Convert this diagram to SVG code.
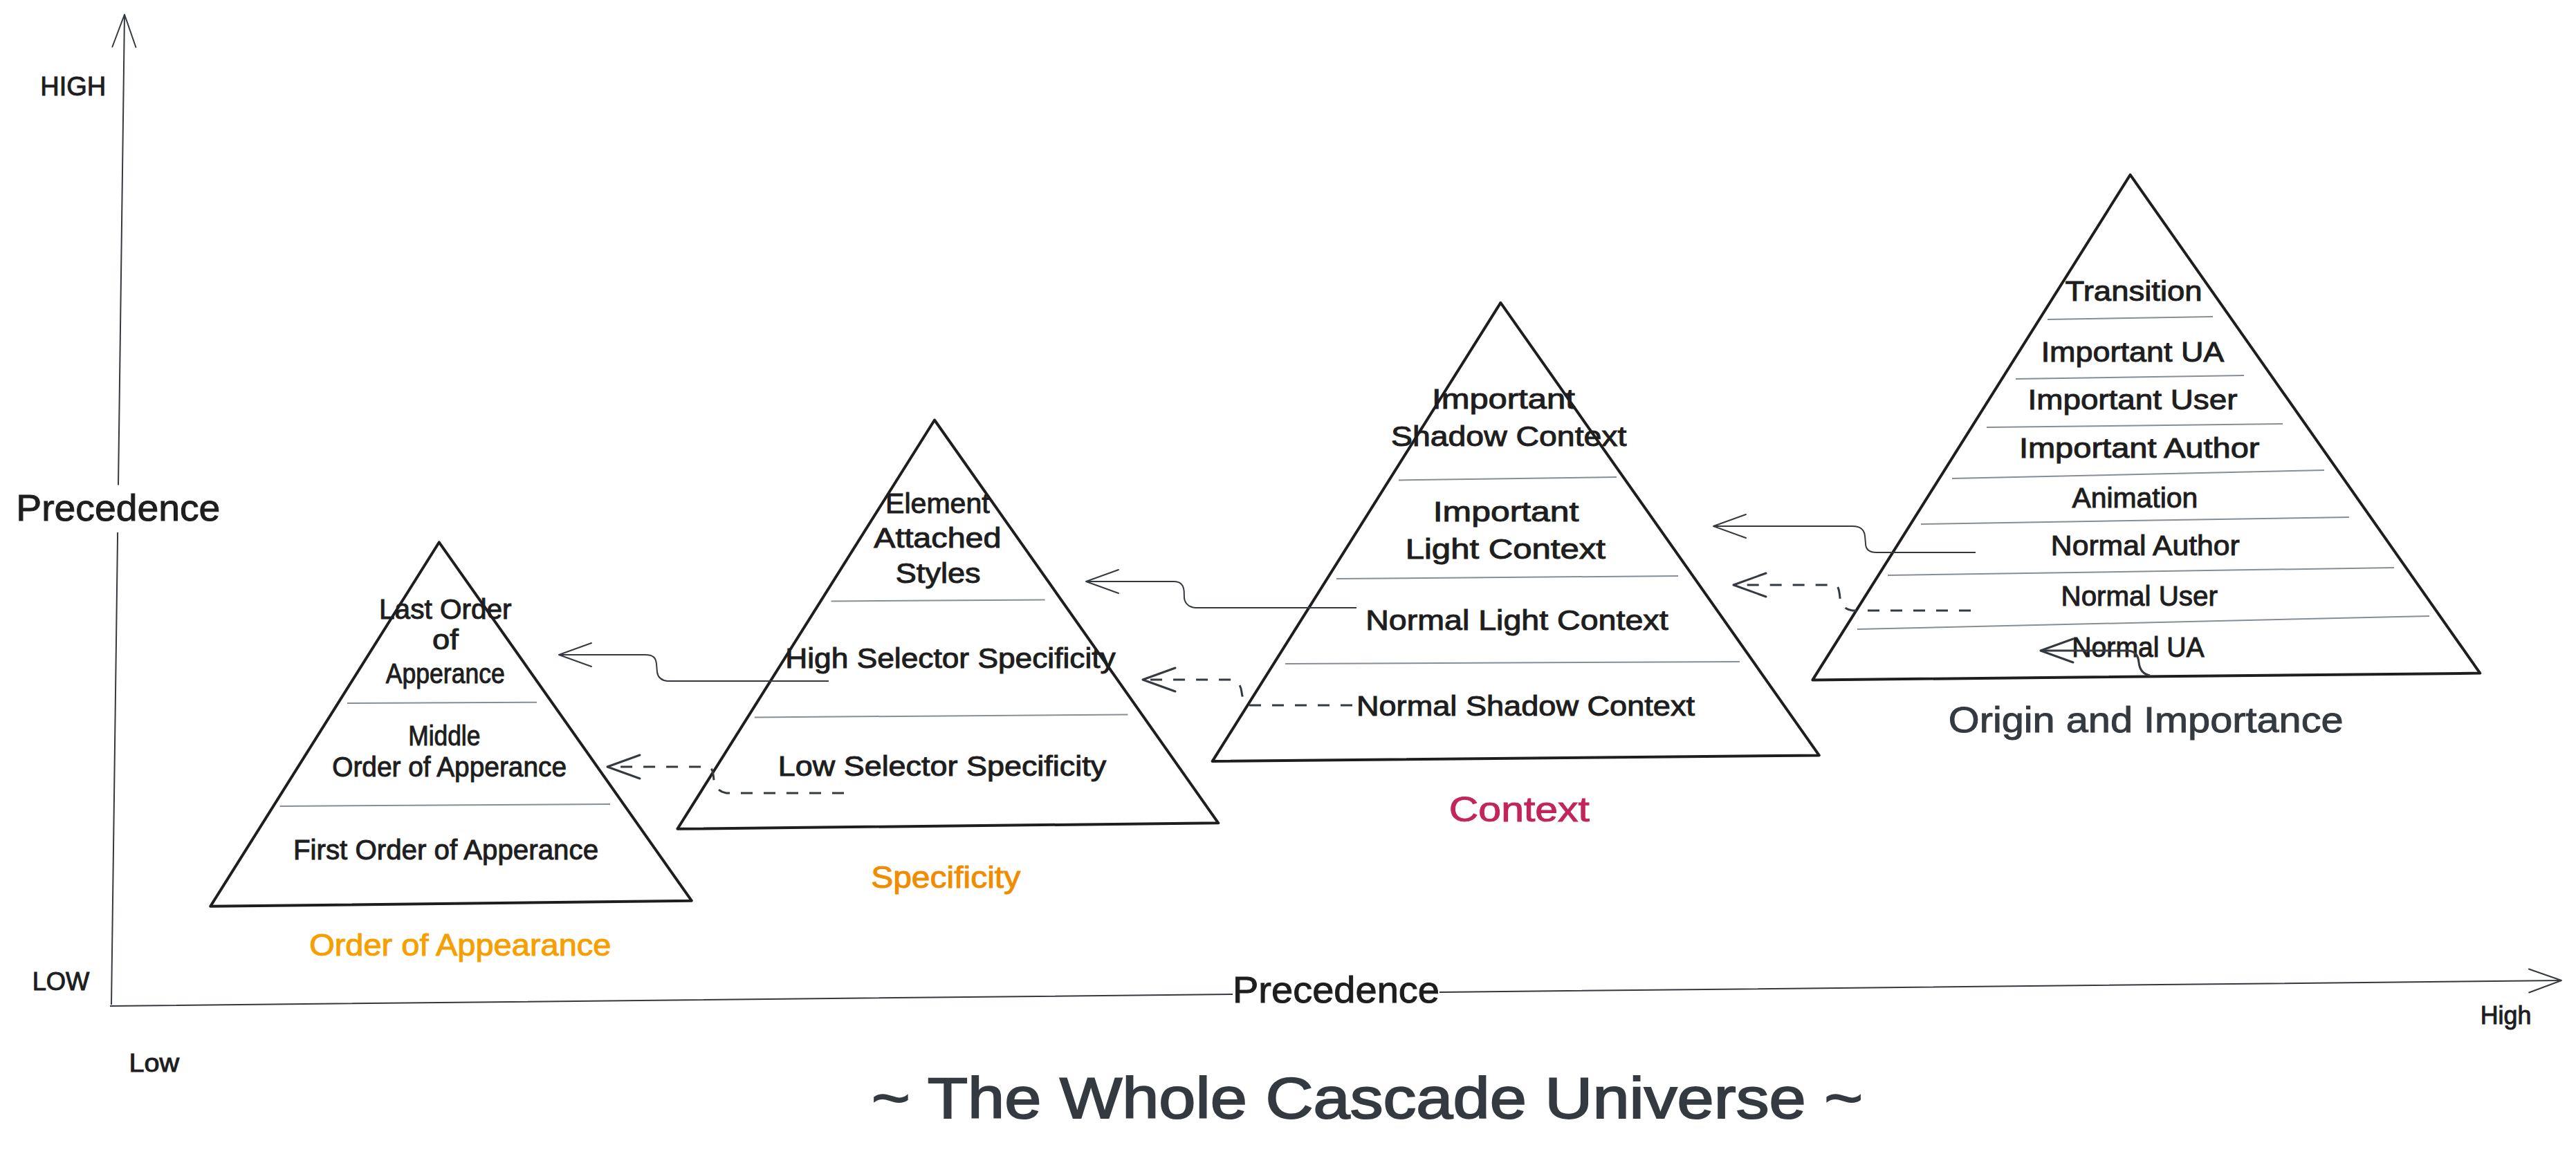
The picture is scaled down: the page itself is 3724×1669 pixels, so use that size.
<svg xmlns="http://www.w3.org/2000/svg" width="3724" height="1669" viewBox="0 0 3724 1669">
<defs>
<style>
.t{font-family:"Liberation Sans",Arial,sans-serif;fill:#1e1e1e;stroke:#1e1e1e;stroke-width:1;text-anchor:middle}
.p{font-size:40px}
.g{fill:#343a40;stroke:#343a40}
.sep{stroke:#868e96;stroke-width:2;fill:none}
.pyr{fill:none;stroke:#1e1e1e;stroke-width:4;stroke-linejoin:round}
.conn{fill:none;stroke:#343a40;stroke-width:2}
.dash{stroke-width:3;stroke-dasharray:17 16}
.axis{fill:none;stroke:#343a40;stroke-width:2}
</style>
<marker id="ah" markerUnits="userSpaceOnUse" markerWidth="60" markerHeight="40" refX="0" refY="0" orient="auto" overflow="visible">
<path d="M-47,-17 L0,0 L-47,17" fill="none" stroke="#343a40" stroke-width="2" stroke-linecap="round" stroke-linejoin="round"/>
</marker>
<marker id="ahb" markerUnits="userSpaceOnUse" markerWidth="60" markerHeight="40" refX="0" refY="0" orient="auto" overflow="visible">
<path d="M-47,-17 L0,0 L-47,17" fill="none" stroke="#343a40" stroke-width="3" stroke-linecap="round" stroke-linejoin="round"/>
</marker>
</defs>
<rect width="3724" height="1669" fill="#ffffff"/>

<g id="axes">
<path class="axis" d="M161,1453 L170.1,770 M171,701.5 L180,21" marker-end="url(#ah)"/>
<path class="axis" d="M159,1455 L1782,1438 M2081,1435 L3703,1418" marker-end="url(#ah)"/>
<text class="t" x="105.8" y="137.8" font-size="38" textLength="95" lengthAdjust="spacingAndGlyphs">HIGH</text>
<text class="t" x="88" y="1431.7" font-size="36" textLength="82.7" lengthAdjust="spacingAndGlyphs">LOW</text>
<text class="t" x="222.7" y="1550" font-size="36" textLength="72.6" lengthAdjust="spacingAndGlyphs">Low</text>
<text class="t" x="3622.5" y="1481" font-size="36" textLength="73.6" lengthAdjust="spacingAndGlyphs">High</text>
<text class="t" x="170.8" y="752.5" font-size="54" textLength="295" lengthAdjust="spacingAndGlyphs">Precedence</text>
<text class="t" x="1931.5" y="1450" font-size="54" textLength="299" lengthAdjust="spacingAndGlyphs">Precedence</text>
</g>

<g id="title">
<text class="t g" x="1976.5" y="1617" font-size="84" textLength="1433" lengthAdjust="spacingAndGlyphs" style="stroke-width:2">~ The Whole Cascade Universe ~</text>
</g>

<g id="order-of-appearance">
<polygon class="pyr" points="634.8,784.3 999.8,1302.7 304.2,1310.8"/>
<line class="sep" x1="502" y1="1017" x2="776" y2="1015.7"/>
<line class="sep" x1="404.6" y1="1166" x2="882" y2="1163"/>
<text class="t p" x="643.8" y="894.5" textLength="191.5" lengthAdjust="spacingAndGlyphs">Last Order</text>
<text class="t p" x="644" y="939.4" textLength="37.8" lengthAdjust="spacingAndGlyphs">of</text>
<text class="t p" x="643.8" y="988.4" textLength="172" lengthAdjust="spacingAndGlyphs">Apperance</text>
<text class="t p" x="642.3" y="1078" textLength="104.2" lengthAdjust="spacingAndGlyphs">Middle</text>
<text class="t p" x="649.6" y="1123" textLength="338.8" lengthAdjust="spacingAndGlyphs">Order of Apperance</text>
<text class="t p" x="644.5" y="1242.7" textLength="441.1" lengthAdjust="spacingAndGlyphs">First Order of Apperance</text>
<text class="t" x="665.3" y="1382" font-size="44" textLength="436.3" lengthAdjust="spacingAndGlyphs" style="fill:#f59f00;stroke:#f59f00">Order of Appearance</text>
</g>

<g id="specificity">
<polygon class="pyr" points="1351,607.5 1761.3,1190.3 979.4,1198.8"/>
<line class="sep" x1="1201.6" y1="869.4" x2="1510.7" y2="867.5"/>
<line class="sep" x1="1090.8" y1="1037.4" x2="1630.5" y2="1033.6"/>
<text class="t p" x="1355.4" y="742" textLength="150.6" lengthAdjust="spacingAndGlyphs">Element</text>
<text class="t p" x="1355.4" y="792" textLength="184.1" lengthAdjust="spacingAndGlyphs">Attached</text>
<text class="t p" x="1356.2" y="842.5" textLength="122.9" lengthAdjust="spacingAndGlyphs">Styles</text>
<text class="t p" x="1374" y="966" textLength="477.5" lengthAdjust="spacingAndGlyphs">High Selector Specificity</text>
<text class="t p" x="1362" y="1122" textLength="474.4" lengthAdjust="spacingAndGlyphs">Low Selector Specificity</text>
<text class="t" x="1367.2" y="1283.7" font-size="44" textLength="216" lengthAdjust="spacingAndGlyphs" style="fill:#f08c00;stroke:#f08c00">Specificity</text>
</g>

<g id="context">
<polygon class="pyr" points="2169.4,437.9 2629.8,1092.4 1752.6,1101.1"/>
<line class="sep" x1="2022" y1="694.5" x2="2337" y2="690"/>
<line class="sep" x1="1932" y1="837" x2="2426" y2="833"/>
<line class="sep" x1="1858" y1="960" x2="2515" y2="957"/>
<text class="t p" x="2173.4" y="591" textLength="206.7" lengthAdjust="spacingAndGlyphs">Important</text>
<text class="t p" x="2181.2" y="644.5" textLength="340.4" lengthAdjust="spacingAndGlyphs">Shadow Context</text>
<text class="t p" x="2177.1" y="754" textLength="210.7" lengthAdjust="spacingAndGlyphs">Important</text>
<text class="t p" x="2176.3" y="808" textLength="289.3" lengthAdjust="spacingAndGlyphs">Light Context</text>
<text class="t p" x="2192.9" y="911" textLength="437.4" lengthAdjust="spacingAndGlyphs">Normal Light Context</text>
<text class="t p" x="2205.5" y="1035" textLength="489.1" lengthAdjust="spacingAndGlyphs">Normal Shadow Context</text>
<text class="t" x="2196.4" y="1188" font-size="50" textLength="203.2" lengthAdjust="spacingAndGlyphs" style="fill:#c2255c;stroke:#c2255c">Context</text>
</g>

<g id="origin-and-importance">
<polygon class="pyr" points="3079.6,252.8 3585.3,973.6 2620.4,983.4"/>
<line class="sep" x1="2960" y1="462" x2="3199" y2="458"/>
<line class="sep" x1="2914" y1="548" x2="3244" y2="543"/>
<line class="sep" x1="2872" y1="618" x2="3300" y2="613"/>
<line class="sep" x1="2822" y1="692" x2="3360" y2="680"/>
<line class="sep" x1="2777" y1="758" x2="3396" y2="748"/>
<line class="sep" x1="2729" y1="832" x2="3461" y2="821"/>
<line class="sep" x1="2685" y1="910" x2="3512" y2="891"/>
<text class="t p" x="3084.6" y="435" textLength="198" lengthAdjust="spacingAndGlyphs">Transition</text>
<text class="t p" x="3083" y="523" textLength="264.7" lengthAdjust="spacingAndGlyphs">Important UA</text>
<text class="t p" x="3083" y="592" textLength="303" lengthAdjust="spacingAndGlyphs">Important User</text>
<text class="t p" x="3092.7" y="662" textLength="347.6" lengthAdjust="spacingAndGlyphs">Important Author</text>
<text class="t p" x="3086.3" y="734" textLength="181.8" lengthAdjust="spacingAndGlyphs">Animation</text>
<text class="t p" x="3101.3" y="803" textLength="273" lengthAdjust="spacingAndGlyphs">Normal Author</text>
<text class="t p" x="3092.7" y="876" textLength="226.4" lengthAdjust="spacingAndGlyphs">Normal User</text>
<text class="t p" x="3091" y="950" textLength="191.3" lengthAdjust="spacingAndGlyphs">Normal UA</text>
<text class="t g" x="3102.2" y="1059" font-size="52" textLength="570.8" lengthAdjust="spacingAndGlyphs">Origin and Importance</text>
</g>

<g id="connectors">
<path class="conn" d="M2856,799 L2713,799 C2700,799 2697,793 2697,786 L2696,775 C2695,766 2690,761 2678,761 L2477,761" marker-end="url(#ah)"/>
<path class="conn dash" d="M2849,883 L2678,883 C2665,881 2661,874 2660,865 C2659,853 2658,846 2650,846 L2506,846" marker-end="url(#ahb)"/>
<path class="conn" d="M1961,879 L1728,879 C1718,878 1713,872 1712,865 L1711.7,855 C1711,846 1706,841 1697,841 L1570,841" marker-end="url(#ah)"/>
<path class="conn dash" d="M1955,1020 L1807,1020 C1800,1018 1796,1010 1795,1001 C1794,992 1790,983 1777,983 L1652,983" marker-end="url(#ahb)"/>
<path class="conn" d="M1198,985 L965,985 C956,984 951,979 950,972 L949,960 C948,951 944,947 933,947 L808,947" marker-end="url(#ah)"/>
<path class="conn dash" d="M1220,1147 L1050,1147 C1039,1145 1033,1138 1032,1128 C1031,1116 1030,1109 1022,1109 L878,1109" marker-end="url(#ahb)"/>
<path class="conn" style="stroke-width:3" d="M3108,977 C3098,975 3093,968 3092,958 C3091,947 3086,941 3075,941 L2950,941" marker-end="url(#ahb)"/>
</g>
</svg>
